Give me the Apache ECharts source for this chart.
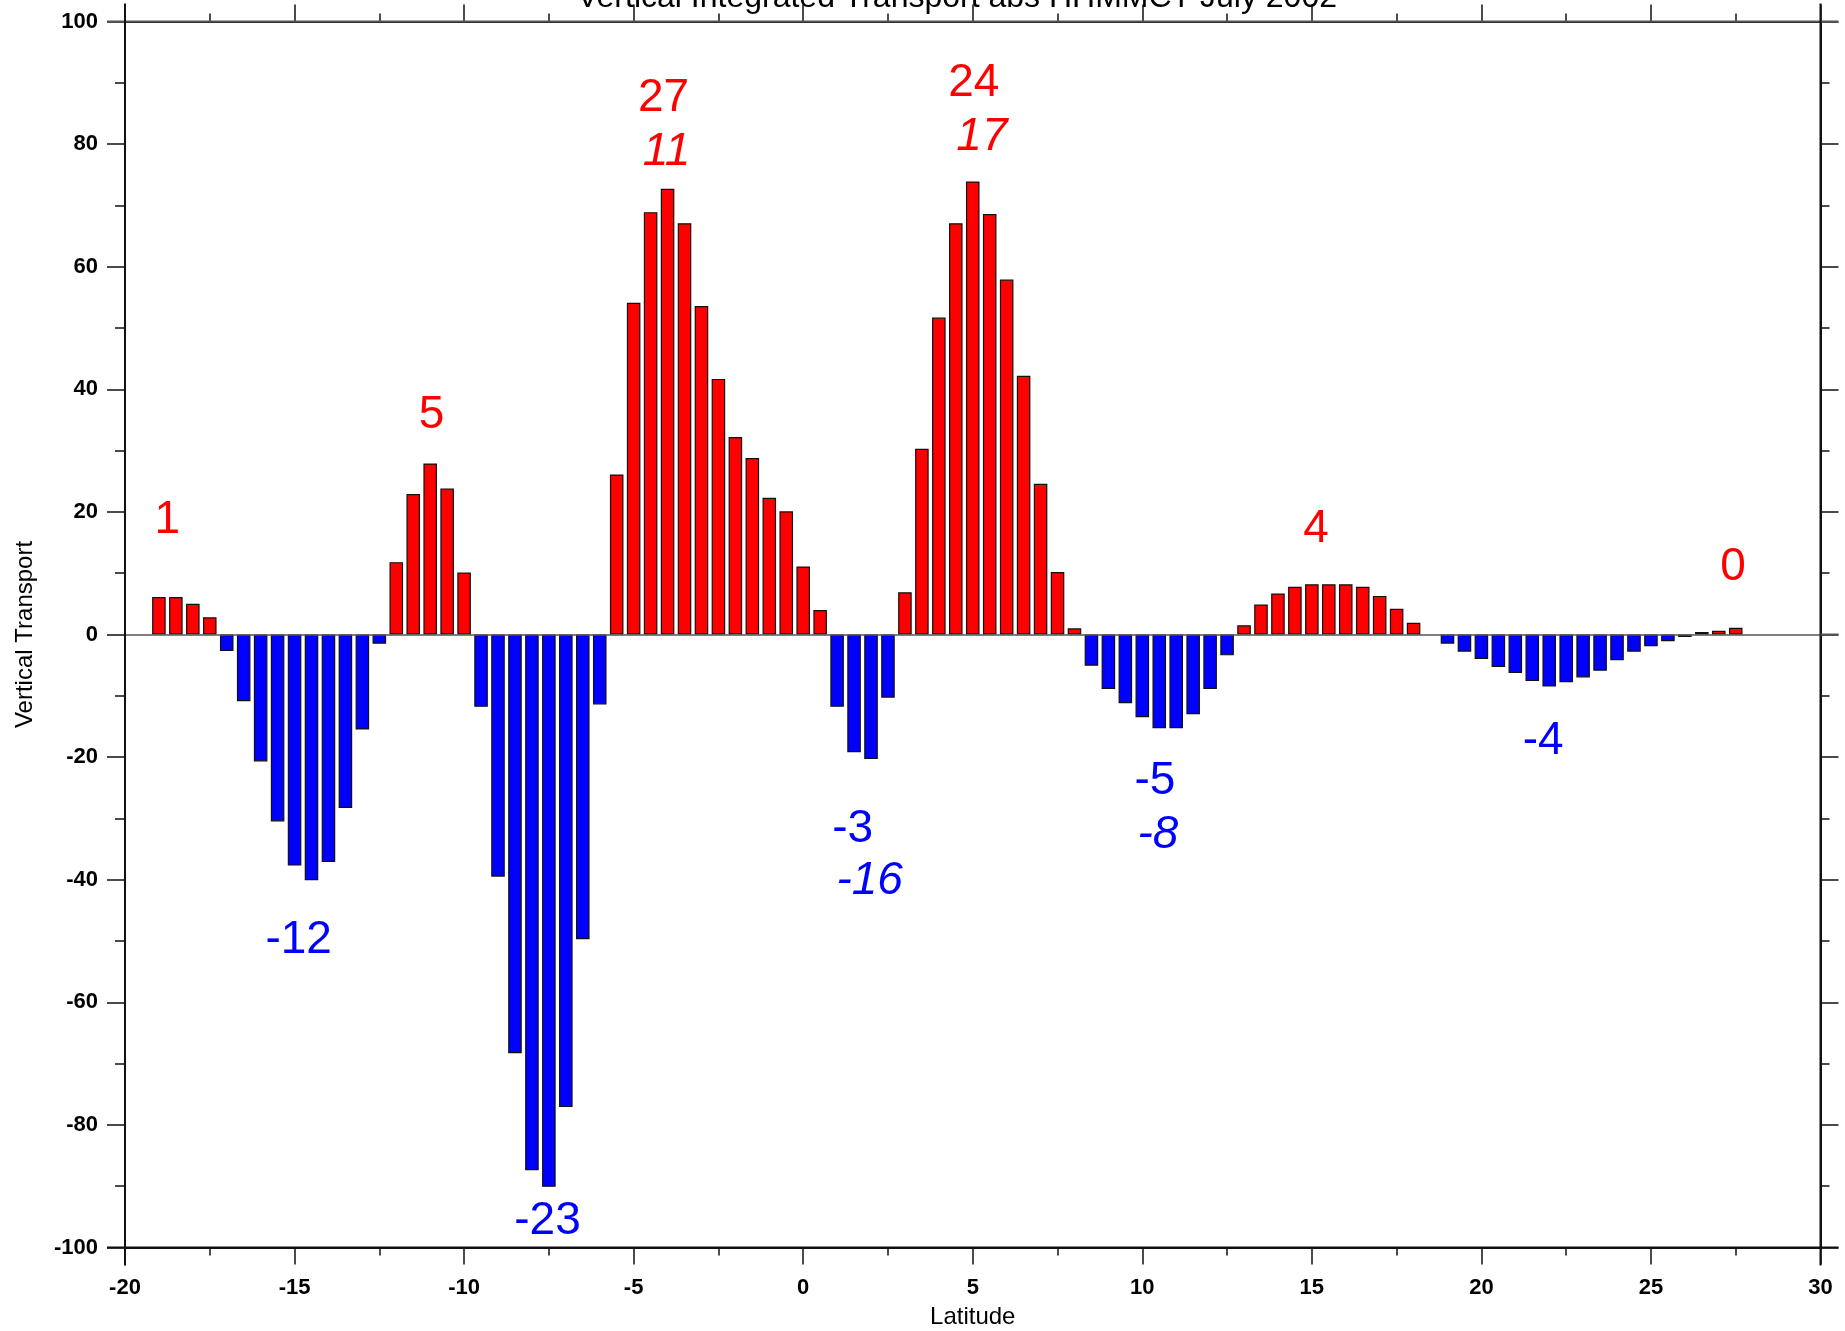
<!DOCTYPE html>
<html>
<head>
<meta charset="utf-8">
<script src="https://cdn.jsdelivr.net/npm/echarts@6/dist/echarts.min.js"></script>
<style>
  html, body { margin: 0; padding: 0; background: #ffffff; }
  #chart { width: 1845px; height: 1331px; }
</style>
</head>
<body>
<div id="chart"></div>
<script>
// Latitude of each 0.5-degree band (bar centres)
const latitudes = [
  -19, -18.5, -18, -17.5, -17, -16.5, -16, -15.5, -15, -14.5,
  -14, -13.5, -13, -12.5, -12, -11.5, -11, -10.5, -10, -9.5,
  -9, -8.5, -8, -7.5, -7, -6.5, -6, -5.5, -5, -4.5,
  -4, -3.5, -3, -2.5, -2, -1.5, -1, -0.5, 0, 0.5,
  1, 1.5, 2, 2.5, 3, 3.5, 4, 4.5, 5, 5.5,
  6, 6.5, 7, 7.5, 8, 8.5, 9, 9.5, 10, 10.5,
  11, 11.5, 12, 12.5, 13, 13.5, 14, 14.5, 15, 15.5,
  16, 16.5, 17, 17.5, 18, 18.5, 19, 19.5, 20, 20.5,
  21, 21.5, 22, 22.5, 23, 23.5, 24, 24.5, 25, 25.5,
  26, 26.5, 27, 27.5
];

// Vertically integrated transport per band (null = no value)
const transport = [
  6.1, 6.1, 5.0, 2.8, -2.7, -10.9, -20.7, -30.5, -37.7, -40.1,
  -37.1, -28.3, -15.5, -1.5, 11.8, 22.9, 27.9, 23.8, 10.1, -11.8,
  -39.5, -68.3, -87.4, -90.1, -77.1, -49.7, -11.4, 26.1, 54.1, 68.9,
  72.7, 67.1, 53.6, 41.7, 32.2, 28.8, 22.3, 20.1, 11.1, 4.0,
  -11.8, -19.2, -20.3, -10.3, 6.9, 30.3, 51.7, 67.1, 73.9, 68.6,
  57.9, 42.2, 24.6, 10.2, 1.0, -5.1, -8.9, -11.2, -13.5, -15.3,
  -15.3, -13.0, -8.9, -3.4, 1.5, 4.9, 6.7, 7.8, 8.2, 8.2,
  8.2, 7.8, 6.3, 4.2, 1.9, null, -1.5, -2.8, -4.0, -5.3,
  -6.3, -7.6, -8.5, -7.8, -7.0, -5.9, -4.2, -2.8, -1.9, -1.1,
  -0.4, 0.4, 0.6, 1.1
];

// Axis tick values
const xTickValues = [-20, -15, -10, -5, 0, 5, 10, 15, 20, 25, 30];
const yTickValues = [-100, -80, -60, -40, -20, 0, 20, 40, 60, 80, 100];

// Integrated totals written over each lobe (upright = first line, italic = second line)
const lobeTexts    = ['1', '5', '-12', '27', '11', '-23', '24', '17', '-3', '-16', '-5', '-8', '4', '-4', '0'];
const lobeItalic   = [false, false, false, false, true, false, false, true, false, true, false, true, false, false, false];
const lobePositive = [true, true, false, true, true, false, true, true, false, false, false, false, true, false, true];

// Where each total is written, in latitude / transport units
const lobeAnchors = [
  [-18.75, 18.6], [-10.96, 35.8], [-14.88, -49.9], [-4.12, 87.5], [-4.03, 78.7],
  [-7.54, -95.7], [5.03, 89.9], [5.27, 81.2], [1.46, -31.8], [1.96, -40.2],
  [10.37, -23.9], [10.46, -32.7], [15.12, 17.1], [21.82, -17.4], [27.42, 11.0]
];

const titleText = 'Vertical Integrated Transport abs HHMMCT July 2002';

const RED = '#ff0000';
const BLUE = '#0000ff';
const FONT = '"Liberation Sans", Arial, Helvetica, sans-serif';
const INK = '#111111';

const chart = echarts.init(document.getElementById('chart'), null, { renderer: 'canvas' });

const barData = latitudes.map((lat, i) => [lat, transport[i]]);
const lobeData = lobeTexts.map((t, i) => ({
  name: t,
  value: lobeAnchors[i],
  label: {
    color: lobePositive[i] ? RED : BLUE,
    fontStyle: lobeItalic[i] ? 'italic' : 'normal'
  }
}));

const frameLine = { show: true, onZero: false, lineStyle: { color: INK, width: 2 } };
const tickLabel = { fontSize: 22, fontWeight: 'bold', color: '#000', fontFamily: FONT };

const option = {
  animation: false,
  backgroundColor: '#ffffff',
  grid: {
    left: 125, right: 24.5, top: 21.5, bottom: 83.5,
    containLabel: false,
    outerBoundsMode: 'none'
  },
  xAxis: [
    {
      type: 'value', position: 'bottom', min: -20, max: 30, interval: 5,
      axisLine: frameLine,
      axisTick: { show: true, length: 17, lineStyle: { color: INK, width: 1.5 }, customValues: xTickValues },
      minorTick: { show: true, splitNumber: 2, length: 8, lineStyle: { color: INK, width: 1.5 } },
      axisLabel: Object.assign({ show: true, customValues: xTickValues, margin: 29 }, tickLabel),
      splitLine: { show: false },
      name: 'Latitude', nameLocation: 'middle', nameGap: 58,
      nameTextStyle: { fontSize: 24, color: '#000', fontFamily: FONT }
    },
    {
      type: 'value', position: 'top', min: -20, max: 30, interval: 5,
      axisLine: frameLine,
      axisTick: { show: true, length: 17, lineStyle: { color: INK, width: 1.5 } },
      minorTick: { show: true, splitNumber: 2, length: 8, lineStyle: { color: INK, width: 1.5 } },
      axisLabel: { show: false },
      splitLine: { show: false }
    }
  ],
  yAxis: [
    {
      type: 'value', position: 'left', min: -100, max: 100, interval: 20,
      axisLine: frameLine,
      axisTick: { show: true, length: 18, lineStyle: { color: INK, width: 1.5 } },
      minorTick: { show: true, splitNumber: 2, length: 10, lineStyle: { color: INK, width: 1.5 } },
      axisLabel: Object.assign({ show: true, customValues: yTickValues, margin: 27 }, tickLabel),
      splitLine: { show: false },
      name: 'Vertical Transport', nameLocation: 'middle', nameGap: 88, nameRotate: 90,
      nameTextStyle: { fontSize: 24, color: '#000', fontFamily: FONT }
    },
    {
      type: 'value', position: 'right', min: -100, max: 100, interval: 20,
      axisLine: frameLine,
      axisTick: { show: true, length: 18, lineStyle: { color: INK, width: 1.5 } },
      minorTick: { show: true, splitNumber: 2, length: 9, lineStyle: { color: INK, width: 1.5 } },
      axisLabel: { show: false },
      splitLine: { show: false }
    }
  ],
  series: [
    {
      name: 'transport',
      type: 'bar',
      xAxisIndex: 0,
      yAxisIndex: 0,
      barWidth: '80%',
      data: barData,
      itemStyle: {
        color: (p) => (p.value[1] >= 0 ? RED : BLUE),
        borderColor: INK,
        borderWidth: 1.2
      },
      markLine: {
        silent: true,
        symbol: 'none',
        label: { show: false },
        lineStyle: { color: '#555555', width: 1.5, type: 'solid' },
        data: [{ yAxis: 0 }]
      },
      z: 2
    },
    {
      name: 'lobe totals',
      type: 'scatter',
      xAxisIndex: 0,
      yAxisIndex: 0,
      symbolSize: 1,
      itemStyle: { color: 'rgba(0,0,0,0)', opacity: 1 },
      data: lobeData,
      label: {
        show: true,
        position: 'inside',
        formatter: '{b}',
        fontSize: 46,
        fontFamily: FONT,
        align: 'center',
        verticalAlign: 'middle',
        textBorderWidth: 0,
        opacity: 1
      },
      z: 5
    }
  ]
};

chart.setOption(option);

// Frame lines overshoot the plot corners; title sits above the top edge
const tl = chart.convertToPixel({ xAxisIndex: 0, yAxisIndex: 0 }, [-20, 100]);
const br = chart.convertToPixel({ xAxisIndex: 0, yAxisIndex: 0 }, [30, -100]);
const zeroY = chart.convertToPixel({ yAxisIndex: 0 }, 0);
const ext = 18;
const seg = (x1, y1, x2, y2, color) => ({
  type: 'line', silent: true, z: 10,
  shape: { x1, y1, x2, y2 },
  style: { stroke: color || INK, lineWidth: 2 }
});

chart.setOption({
  graphic: [
    seg(tl[0] - ext, tl[1], br[0] + ext, tl[1], '#555555'),
    seg(tl[0] - ext, br[1], br[0] + ext, br[1]),
    seg(tl[0], tl[1] - ext, tl[0], br[1] + ext),
    seg(br[0], tl[1] - ext, br[0], br[1] + ext),
    seg(br[0], zeroY, br[0] + ext, zeroY, '#555555'),
    {
      type: 'text', silent: true, z: 10,
      x: 957, y: 14,
      style: {
        text: titleText,
        fill: '#000000',
        font: '32px ' + FONT,
        textAlign: 'center',
        textVerticalAlign: 'bottom'
      }
    }
  ]
});
</script>
</body>
</html>
